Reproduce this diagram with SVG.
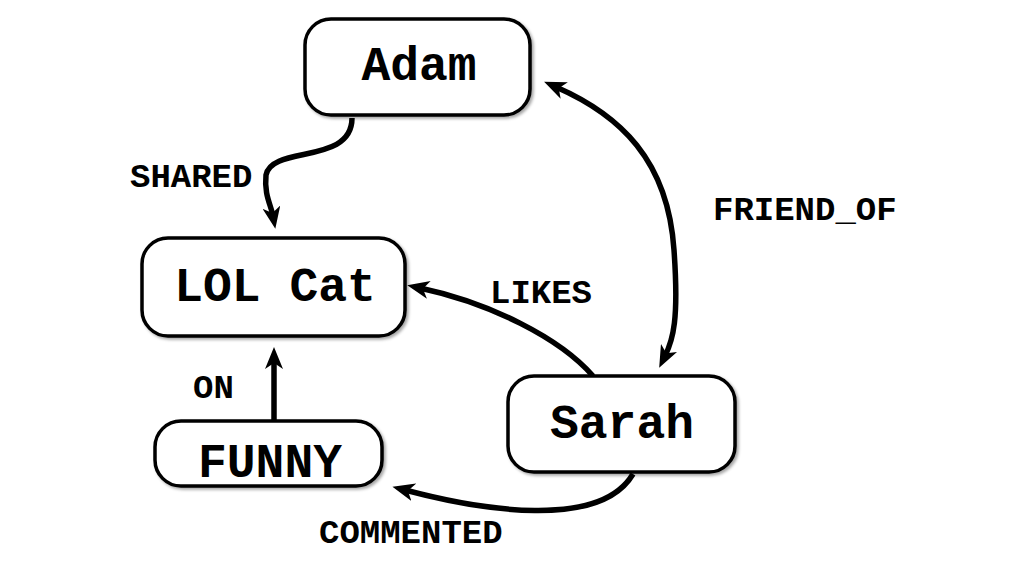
<svg xmlns="http://www.w3.org/2000/svg" width="1024" height="576" viewBox="0 0 1024 576">
<style>
.node rect{fill:#fff;stroke:#000;stroke-width:3.5;filter:url(#sh)}
.node text{font-family:"Liberation Mono","Courier New",monospace;font-weight:bold;font-size:48px;text-anchor:middle;fill:#000}
.lbl{font-family:"Liberation Mono","Courier New",monospace;font-weight:bold;font-size:34px;fill:#000}
.edge{fill:none;stroke:#000;stroke-width:5.5;marker-end:url(#ah)}
</style>
<defs>
<filter id="sh" x="-10%" y="-10%" width="130%" height="130%">
<feDropShadow dx="2" dy="2" stdDeviation="1.5" flood-color="#000" flood-opacity="0.35"/>
</filter>
<marker id="ah" viewBox="0 0 22 18" refX="9" refY="9" markerWidth="22" markerHeight="18" markerUnits="userSpaceOnUse" orient="auto-start-reverse">
<path d="M0,0 L22,9 L0,18 L6,9 Z" fill="#000"/>
</marker>
</defs>
<rect width="1024" height="576" fill="#fff"/>
<g id="connectors">
<path class="edge" d="M352,118 C352,165 272,145 266,175 C264,195 271,205 273,216"/>
<path class="edge" d="M274,421 L274,360"/>
<path class="edge" d="M593,376 C560,338 490,303 420,288"/>
<path class="edge" style="marker-start:url(#ah)" d="M556,87 C620,115 668,160 674,250 C679,320 673,340 665,356"/>
<path class="edge" d="M633,474 C600,530 480,510 405,490"/>
<text class="lbl" x="130" y="187">SHARED</text>
<text class="lbl" x="193" y="398">ON</text>
<text class="lbl" x="490" y="303">LIKES</text>
<text class="lbl" x="713" y="220">FRIEND_OF</text>
<text class="lbl" x="319" y="543">COMMENTED</text>
</g>
<g id="adam" class="node"><rect x="305" y="19" width="225" height="96" rx="26"/><text x="419" y="80">Adam</text></g>
<g id="lolcat" class="node"><rect x="142" y="238" width="263" height="98" rx="26"/><text x="275" y="301">LOL Cat</text></g>
<g id="funny" class="node"><rect x="155" y="421" width="227" height="65" rx="26"/><text x="270" y="477">FUNNY</text></g>
<g id="sarah" class="node"><rect x="508" y="376" width="227" height="96" rx="26"/><text x="622" y="438">Sarah</text></g>
</svg>
